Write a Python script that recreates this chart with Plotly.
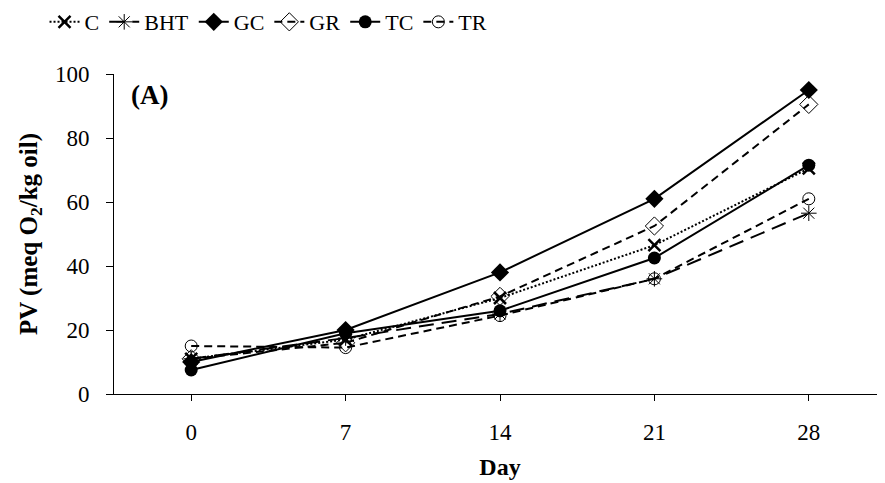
import plotly.graph_objects as go

days = ["0", "7", "14", "21", "28"]
C = [11.0, 17.0, 30.0, 46.5, 70.5]
BHT = [11.0, 17.5, 25.0, 36.0, 56.5]
GC = [10.0, 20.0, 38.0, 61.0, 95.0]
GR = [11.0, 16.0, 30.5, 52.5, 90.5]
TC = [7.5, 19.0, 26.0, 42.5, 71.5]
TR = [15.0, 14.5, 24.5, 36.0, 61.0]

series = [
    ("C", C, "2px,2px", "x-thin-open", 12, 2.5),
    ("BHT", BHT, "15px,8px", "asterisk-open", 13, 1),
    ("GC", GC, "solid", "diamond", 14, 0),
    ("GR", GR, "8px,5px", "diamond-open", 14, 1),
    ("TC", TC, "solid", "circle", 13, 0),
    ("TR", TR, "8px,5px", "circle-open", 12, 1),
]

FONT = "Times New Roman, Liberation Serif, serif"

fig = go.Figure()
for name, vals, dash, sym, size, lw in series:
    fig.add_trace(go.Scatter(
        x=days, y=vals, name=name, mode="lines+markers",
        line=dict(color="black", width=2, dash=dash),
        marker=dict(symbol=sym, size=size, color="black",
                    line=dict(color="black", width=lw)),
    ))

fig.update_layout(
    width=885, height=483,
    margin=dict(l=106, r=7, t=66, b=97, autoexpand=False),
    paper_bgcolor="white", plot_bgcolor="white",
    font=dict(family=FONT, size=22, color="black"),
    showlegend=True,
    legend=dict(orientation="h", x=-0.09, xanchor="left", y=1.228, yanchor="top",
                font=dict(family=FONT, size=22), tracegroupgap=0),
    xaxis=dict(type="category", range=[-0.5, 4.5], showline=True, linecolor="black",
               linewidth=1, ticks="outside", ticklen=6, tickcolor="black",
               showgrid=False, zeroline=False, ticklabelstandoff=11,
               tickfont=dict(family=FONT, size=23),
               title=dict(text="<b>Day</b>", font=dict(family=FONT, size=24), standoff=14)),
    yaxis=dict(range=[0, 100], dtick=20, showline=True, linecolor="black",
               linewidth=1, ticks="outside", ticklen=7, tickcolor="black",
               showgrid=False, zeroline=False, ticklabelstandoff=12,
               tickfont=dict(family=FONT, size=23),
               title=dict(text="<b>PV (meq O<sub>2</sub>/kg oil)</b>", font=dict(family=FONT, size=25), standoff=10)),
    annotations=[dict(text="<b>(A)</b>", x=0.02, y=0.935, xref="paper", yref="paper",
                      xanchor="left", yanchor="middle", showarrow=False,
                      font=dict(family=FONT, size=27))],
)

fig.write_html("out.html")
